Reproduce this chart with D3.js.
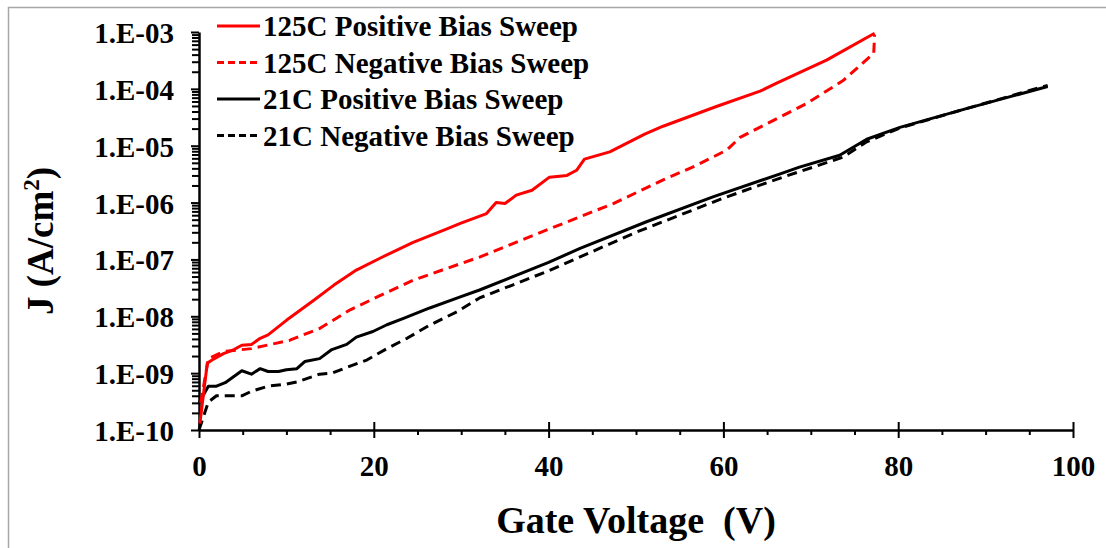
<!DOCTYPE html>
<html lang="en">
<head>
<meta charset="utf-8">
<title>J vs Gate Voltage</title>
<script src="https://d3js.org/d3.v7.min.js"></script>
<style>
  body { margin: 0; background: #fff; }
</style>
</head>
<body>
<div id="chart"></div>
<script>
// ---- data ----
var seriesNames = ["125C Positive Bias Sweep", "125C Negative Bias Sweep",
                   "21C Positive Bias Sweep", "21C Negative Bias Sweep"];
var seriesColors = ["#ff0000", "#ff0000", "#000000", "#000000"];
var seriesDashed = [false, true, false, true];

var hotPosV = [0.1, 0.95, 1.5, 2.8, 4.0, 4.9, 6.0, 7.0, 7.9, 10, 13.1, 15.4, 18, 20.7, 23, 24.5, 28.3, 29.9,
               32.9, 34.0, 35.0, 36.3, 38.1, 40.1, 42.1, 43.2, 44.1, 47, 51, 53.1, 59.2, 64.2, 66.1, 71.8, 77.3];
var hotPosJ = [1.3e-10, 1.5e-9, 1.7e-9, 2.2e-9, 2.6e-9, 3.1e-9, 3.2e-9, 4.1e-9, 4.7e-9, 8.5e-9, 1.9e-8, 3.5e-8,
               6.5e-8, 1.05e-7, 1.55e-7, 2.0e-7, 3.4e-7, 4.3e-7, 6.4e-7, 1.0e-6, 9.6e-7, 1.35e-6, 1.65e-6,
               2.8e-6, 3.0e-6, 3.7e-6, 5.8e-6, 7.8e-6, 1.6e-5, 2.2e-5, 4.9e-5, 9.1e-5, 1.26e-4, 3.2e-4, 9.5e-4];

var hotNegV = [0.2, 1.07, 2.8, 6.0, 10.4, 13.8, 17.3, 20.7, 24.5, 28.3, 32.1, 39.8, 47.4, 53.1, 56.9,
               60.4, 61.9, 64.9, 69.5, 73.7, 76.7, 77.2, 77.3];
var hotNegJ = [3e-10, 1.8e-9, 2.4e-9, 2.7e-9, 3.8e-9, 6.1e-9, 1.3e-8, 2.3e-8, 4.3e-8, 6.9e-8, 1.1e-7, 3.3e-7,
               9.6e-7, 2.5e-6, 4.5e-6, 8.4e-6, 1.4e-5, 2.4e-5, 5.5e-5, 1.4e-4, 3.6e-4, 4.2e-4, 9.0e-4];

var roomPosV = [0, 1.07, 2, 3, 4.9, 6, 7, 7.9, 9.1, 10, 11.2, 12.1, 13.8, 15.2, 16.9, 18, 19.9, 21.5, 23.4,
                26.4, 29.9, 32.1, 40, 43.6, 51.2, 58.8, 66.5, 68.7, 73.3, 76.4, 80.2, 87.8, 97.1];
var roomPosJ = [3e-10, 5.9e-10, 5.9e-10, 6.8e-10, 1.1e-9, 9.6e-10, 1.2e-9, 1.07e-9, 1.07e-9, 1.15e-9, 1.2e-9,
                1.6e-9, 1.8e-9, 2.6e-9, 3.2e-9, 4.3e-9, 5.4e-9, 7.1e-9, 9.2e-9, 1.4e-8, 2.2e-8, 2.9e-8,
                8.9e-8, 1.56e-7, 4.6e-7, 1.26e-6, 3.2e-6, 4.2e-6, 6.8e-6, 1.3e-5, 2.1e-5, 4.5e-5, 1.1e-4];

var roomNegV = [0, 1.07, 2, 4.9, 6, 7.9, 10, 11.2, 13.8, 15.2, 16.9, 19.2, 21.5, 23.8, 26.4, 29.5, 32.1,
                40, 50, 60, 66.5, 73.7, 76.4, 80.2, 87.8, 97.1];
var roomNegJ = [1e-10, 3.1e-10, 4e-10, 4e-10, 4.8e-10, 5.9e-10, 6.4e-10, 7e-10, 9.6e-10, 1.0e-9, 1.26e-9,
                1.7e-9, 2.7e-9, 4.1e-9, 7e-9, 1.2e-8, 2.1e-8, 6.3e-8, 3.0e-7, 1.2e-6, 2.7e-6, 6.3e-6,
                1.17e-5, 2.05e-5, 4.5e-5, 1.15e-4];

var xTicks = [0, 20, 40, 60, 80, 100];
var yTicks = [1e-10, 1e-9, 1e-8, 1e-7, 1e-6, 1e-5, 1e-4, 1e-3];

var serif = '"Liberation Serif", "Times New Roman", serif';

// ---- layout ----
var W = 1106, H = 548;
var margin = {top: 32, right: 33, bottom: 118, left: 199};

var svg = d3.select("#chart").append("svg")
    .attr("width", W).attr("height", H);

// light frame round the chart
svg.append("rect")
    .attr("x", 8.5).attr("y", 7.5)
    .attr("width", 1200).attr("height", 700)
    .attr("fill", "none").attr("stroke", "#a6a6a6").attr("stroke-width", 1.5);

var x = d3.scaleLinear().domain([0, 100]).range([margin.left, W - margin.right]);
var y = d3.scaleLog().domain([1e-10, 1e-3]).range([H - margin.bottom, margin.top]);

var fmt = function (d) {
  var e = Math.round(Math.log10(d));
  return "1.E-" + String(-e).padStart(2, "0");
};

// minor ticks
var yMinor = [];
yTicks.slice(0, -1).forEach(function (t) {
  for (var k = 2; k <= 9; k++) yMinor.push(t * k);
});
var xMinor = d3.range(0, 101, 5).filter(function (v) { return v % 20 != 0; });

svg.append("g")
    .attr("transform", "translate(" + margin.left + ",0)")
    .call(d3.axisLeft(y).tickValues(yMinor).tickSize(7).tickFormat(""))
    .call(function (g) { g.select(".domain").remove(); })
    .selectAll("line").attr("stroke-width", 1.5);

svg.append("g")
    .attr("transform", "translate(0," + (H - margin.bottom) + ")")
    .call(d3.axisBottom(x).tickValues(xMinor).tickSize(5).tickFormat(""))
    .call(function (g) { g.select(".domain").remove(); })
    .selectAll("line").attr("stroke-width", 2);

// major axes
var yAxis = svg.append("g")
    .attr("transform", "translate(" + margin.left + ",0)")
    .call(d3.axisLeft(y).tickValues(yTicks).tickFormat(fmt).tickSizeInner(8).tickSizeOuter(0).tickPadding(17));

var xAxis = svg.append("g")
    .attr("transform", "translate(0," + (H - margin.bottom) + ")")
    .call(d3.axisBottom(x).tickValues(xTicks).tickSizeInner(8).tickSizeOuter(0).tickPadding(17));
// major x ticks cross the axis
xAxis.selectAll(".tick").append("line").attr("y2", -8).attr("stroke", "#000");

[xAxis, yAxis].forEach(function (g) {
  g.attr("font-family", null).attr("font-size", null);
  g.selectAll("text")
      .style("font-family", serif)
      .style("font-weight", "bold")
      .style("font-size", "29px")
      .attr("fill", "#000");
});
yAxis.selectAll("text").attr("dy", "0.36em");

svg.selectAll(".domain").attr("stroke-width", 2.5);
svg.selectAll(".tick line").attr("stroke-width", 2);

// ---- curves ----
var allV = [hotPosV, hotNegV, roomPosV, roomNegV];
var allJ = [hotPosJ, hotNegJ, roomPosJ, roomNegJ];

var line = d3.line()
    .x(function (d) { return x(d[0]); })
    .y(function (d) { return y(d[1]); });

// draw cold curves first, hot on top
[3, 2, 1, 0].forEach(function (i) {
  var pts = allV[i].map(function (v, j) { return [v, allJ[i][j]]; });
  svg.append("path")
      .datum(pts)
      .attr("d", line)
      .attr("fill", "none")
      .attr("stroke", seriesColors[i])
      .attr("stroke-width", 3)
      .attr("stroke-linejoin", "round")
      .attr("stroke-dasharray", seriesDashed[i] ? "10,6" : null);
});

// ---- legend ----
var legend = svg.append("g");
seriesNames.forEach(function (name, i) {
  var yy = 26 + i * 36.5;
  legend.append("line")
      .attr("x1", 217).attr("x2", 260)
      .attr("y1", yy).attr("y2", yy)
      .attr("stroke", seriesColors[i]).attr("stroke-width", 3)
      .attr("stroke-dasharray", seriesDashed[i] ? "7,4" : null);
  legend.append("text")
      .attr("x", 263).attr("y", yy + 10)
      .style("font-family", serif)
      .style("font-weight", "bold")
      .style("font-size", "29px")
      .text(name);
});

// ---- axis titles ----
var yl = svg.append("text")
    .attr("transform", "translate(53,241) rotate(-90)")
    .attr("text-anchor", "middle")
    .style("font-family", serif)
    .style("font-weight", "bold")
    .style("font-size", "37px");
yl.append("tspan").text("J (A/cm");
yl.append("tspan").attr("dy", -14).style("font-size", "23px").text("2");
yl.append("tspan").attr("dy", 14).text(")");

svg.append("text")
    .attr("x", 636).attr("y", 533)
    .attr("text-anchor", "middle")
    .style("font-family", serif)
    .style("font-weight", "bold")
    .style("font-size", "38px")
    .style("white-space", "pre")
    .text("Gate Voltage  (V)");
</script>
</body>
</html>
